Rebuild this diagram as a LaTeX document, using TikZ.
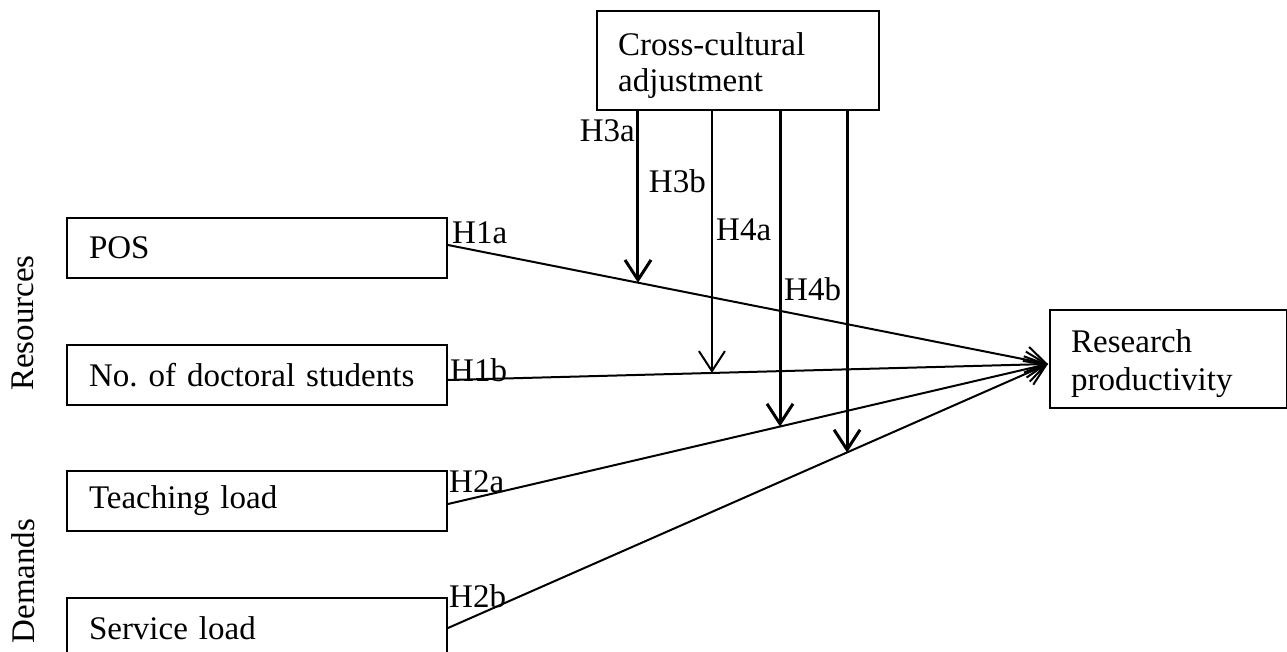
\documentclass[tikz,border=0pt]{standalone}
\usepackage{fontspec}
\setmainfont{Liberation Serif}
\usetikzlibrary{arrows.meta,calc}
\frenchspacing
\begin{document}
\begin{tikzpicture}[x=1pt,y=-1pt,
  every node/.style={font=\fontsize{33}{37}\selectfont},
  box/.style={draw,line width=2pt,inner xsep=22pt,inner ysep=0pt,align=left,anchor=north west},
  lbl/.style={inner sep=0pt},
  conn/.style={line width=2pt,-{Straight Barb[length=20pt,width=26pt]}},
  thick3/.style={line width=3pt}]
\useasboundingbox (0,0) rectangle (1287,652);
% boxes
\node[box,minimum width=282pt,minimum height=99pt] (cca) at (596,10) {};
\node[lbl,align=left,anchor=north west,font=\fontsize{33}{36}\selectfont] (ccatext) at (618,32.5) {Cross-cultural\\adjustment};
\node[box,minimum width=380pt,minimum height=60pt,text width=336pt] (pos) at (66,217) {POS};
\node[box,minimum width=380pt,minimum height=60pt,text width=336pt] (doc) at (66,344) {No. of doctoral students};
\node[box,minimum width=380pt,minimum height=60pt,text width=336pt] (teach) at (66,470) {Teaching load};
\node[box,minimum width=380pt,minimum height=60pt,text width=336pt] (serv) at (66,597) {Service load};
\node[box,minimum width=237pt,minimum height=98pt] (res) at (1049,309) {};
\node[lbl,align=left,anchor=north west,font=\fontsize{33}{38}\selectfont] (restext) at (1071,329.5) {Research\\productivity};
% side labels
\node[rotate=90,lbl] (resources) at (23,323) {Resources};
\node[rotate=90,lbl] (demands) at (23,581) {Demands};
% convergence point
\coordinate (tip) at ($(res.west)+(-1,5)$);
\coordinate (s1) at ($(pos.east)+(0,-3)$);
\coordinate (s2) at ($(doc.east)+(0,5)$);
\coordinate (s3) at ($(teach.east)+(0,3)$);
\coordinate (s4) at ($(serv.east)+(0,0)$);
\draw[conn] (s1) -- (tip);
\draw[conn] (s2) -- (tip);
\draw[conn] (s3) -- (tip);
\draw[conn] (s4) -- (tip);
% moderator arrows
\coordinate (m1) at (intersection cs: first line={(s1)--(tip)}, second line={(638,0)--(638,600)});
\coordinate (m2) at (intersection cs: first line={(s2)--(tip)}, second line={(712,0)--(712,600)});
\coordinate (m3) at (intersection cs: first line={(s3)--(tip)}, second line={(780,0)--(780,600)});
\coordinate (m4) at (intersection cs: first line={(s4)--(tip)}, second line={(847,0)--(847,600)});
\draw[conn,thick3] (cca.south -| m1) -- (m1);
\draw[conn] (cca.south -| m2) -- (m2);
\draw[conn,thick3] (cca.south -| m3) -- (m3);
\draw[conn,thick3] (cca.south -| m4) -- (m4);
% hypothesis labels
\node[lbl,anchor=base west] (h1a) at (452,244) {H1a};
\node[lbl,anchor=base west] (h1b) at (450,381) {H1b};
\node[lbl,anchor=base west] (h2a) at (449,492) {H2a};
\node[lbl,anchor=base west] (h2b) at (449,607) {H2b};
\node[lbl,anchor=base east] (h3a) at (635,142) {H3a};
\node[lbl,anchor=base east] (h3b) at (706,193) {H3b};
\node[lbl,anchor=base west] (h4a) at (716,241) {H4a};
\node[lbl,anchor=base west] (h4b) at (784,301) {H4b};
\end{tikzpicture}
\end{document}
